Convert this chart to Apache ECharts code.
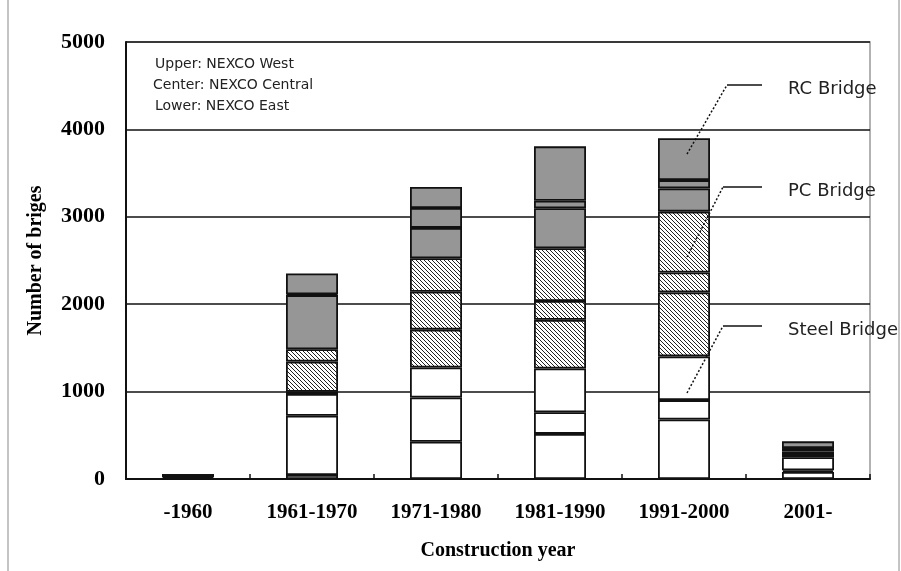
<!DOCTYPE html>
<html>
<head>
<meta charset="utf-8">
<script src="https://cdn.jsdelivr.net/npm/echarts@6/dist/echarts.min.js"></script>
<style>
  html, body { margin: 0; padding: 0; background: #fff; }
  #main { width: 901px; height: 571px; }
</style>
</head>
<body>
<div id="main"></div>
<script>
// categories on the x axis
const years = ['-1960', '1961-1970', '1971-1980', '1981-1990', '1991-2000', '2001-'];
const yTicks = [0, 1000, 2000, 3000, 4000, 5000];

// number of bridges; lower = NEXCO East, center = NEXCO Central, upper = NEXCO West
const steelEast    = [15,  46, 426, 516, 680,  80];
const steelCentral = [15, 677, 506, 247, 223,  20];
const steelWest    = [10, 250, 343, 502, 500, 150];
const pcEast       = [ 0,  24, 434, 556, 732,  35];
const pcCentral    = [ 0, 346, 433, 216, 228,  30];
const pcWest       = [ 0, 141, 384, 604, 696,  30];
const rcEast       = [ 0, 620, 347, 457, 266,   5];
const rcCentral    = [ 0,  10, 228,  86,  95,   5];
const rcWest       = [ 0, 238, 240, 622, 480,  76];

// hatch pattern for PC bridges
function makeHatch() {
  const c = document.createElement('canvas');
  c.width = 4;
  c.height = 4;
  const ctx = c.getContext('2d');
  ctx.fillStyle = '#fff';
  ctx.fillRect(0, 0, 4, 4);
  ctx.fillStyle = '#222';
  for (let i = 0; i < 4; i++) {
    ctx.fillRect(i, i, 1, 1);
  }
  return c;
}
const hatch = { image: makeHatch(), repeat: 'repeat' };

const serif = '"Liberation Serif", "Times New Roman", serif';
const sans = '"DejaVu Sans", sans-serif';

function seg(name, data, color) {
  return {
    name: name,
    type: 'bar',
    stack: 'total',
    barWidth: 52,
    data: data,
    itemStyle: { color: color, borderColor: '#111', borderWidth: 1.8 },
    silent: true
  };
}

const chart = echarts.init(document.getElementById('main'), null, { renderer: 'canvas' });

const note = (y, text) => ({
  type: 'text', left: 788, top: y - 11,
  style: { text: text, font: '18px ' + sans, fill: '#222' }
});
const leader = (x1, y1, x2, y2) => ([
  { type: 'line', shape: { x1: x1, y1: y1, x2: x2, y2: y2 },
    style: { stroke: '#111', lineWidth: 1.5, lineDash: [2, 2] }, z: 100 },
  { type: 'line', shape: { x1: x2, y1: y2, x2: 762, y2: y2 },
    style: { stroke: '#111', lineWidth: 1.5 }, z: 100 }
]);

let option = {
  animation: false,
  backgroundColor: '#fff',
  grid: {
    left: 126, right: 31, top: 42, bottom: 92,
    show: true, borderColor: '#999', borderWidth: 1.5
  },
  xAxis: {
    type: 'category',
    data: years,
    name: 'Construction year',
    nameLocation: 'middle',
    nameGap: 62,
    nameTextStyle: { fontFamily: serif, fontWeight: 'bold', fontSize: 20, color: '#000' },
    axisLine: { lineStyle: { color: '#111', width: 2 } },
    axisTick: { show: true, inside: true, length: 5, lineStyle: { color: '#111', width: 1.5 } },
    axisLabel: { fontFamily: serif, fontWeight: 'bold', fontSize: 21, color: '#000', margin: 23 }
  },
  yAxis: {
    type: 'value',
    min: 0,
    max: 5000,
    interval: 1000,
    name: 'Number of briges',
    nameLocation: 'middle',
    nameGap: 80,
    nameTextStyle: { fontFamily: serif, fontWeight: 'bold', fontSize: 20, color: '#000' },
    axisLine: { show: true, lineStyle: { color: '#111', width: 2 } },
    axisTick: { show: false },
    splitLine: { lineStyle: { color: '#111', width: 1.5 } },
    axisLabel: {
      fontFamily: serif, fontWeight: 'bold', fontSize: 22, color: '#000', margin: 21,
      formatter: v => yTicks.indexOf(v) >= 0 ? String(v) : ''
    }
  },
  series: [
    seg('Steel East', steelEast, '#fff'),
    seg('Steel Central', steelCentral, '#fff'),
    seg('Steel West', steelWest, '#fff'),
    seg('PC East', pcEast, hatch),
    seg('PC Central', pcCentral, hatch),
    seg('PC West', pcWest, hatch),
    seg('RC East', rcEast, '#969696'),
    seg('RC Central', rcCentral, '#969696'),
    seg('RC West', rcWest, '#969696')
  ],
  graphic: [
    // outer frame
    { type: 'line', shape: { x1: 8, y1: 0, x2: 8, y2: 571 }, style: { stroke: '#c4c4c4', lineWidth: 2 } },
    { type: 'line', shape: { x1: 899, y1: 0, x2: 899, y2: 571 }, style: { stroke: '#c4c4c4', lineWidth: 2 } },
    // legend notes
    { type: 'text', left: 155, top: 57, style: { text: 'Upper: NEXCO West', font: '14px ' + sans, fill: '#222' } },
    { type: 'text', left: 153, top: 78, style: { text: 'Center: NEXCO Central', font: '14px ' + sans, fill: '#222' } },
    { type: 'text', left: 155, top: 99, style: { text: 'Lower: NEXCO East', font: '14px ' + sans, fill: '#222' } },
    // bridge type labels
    ...leader(687, 154, 727, 85),
    ...leader(687, 257, 723, 187),
    ...leader(687, 393, 723, 326),
    note(91, 'RC Bridge'),
    note(193, 'PC Bridge'),
    note(332, 'Steel Bridge')
  ]
};

chart.setOption(option);
</script>
</body>
</html>
